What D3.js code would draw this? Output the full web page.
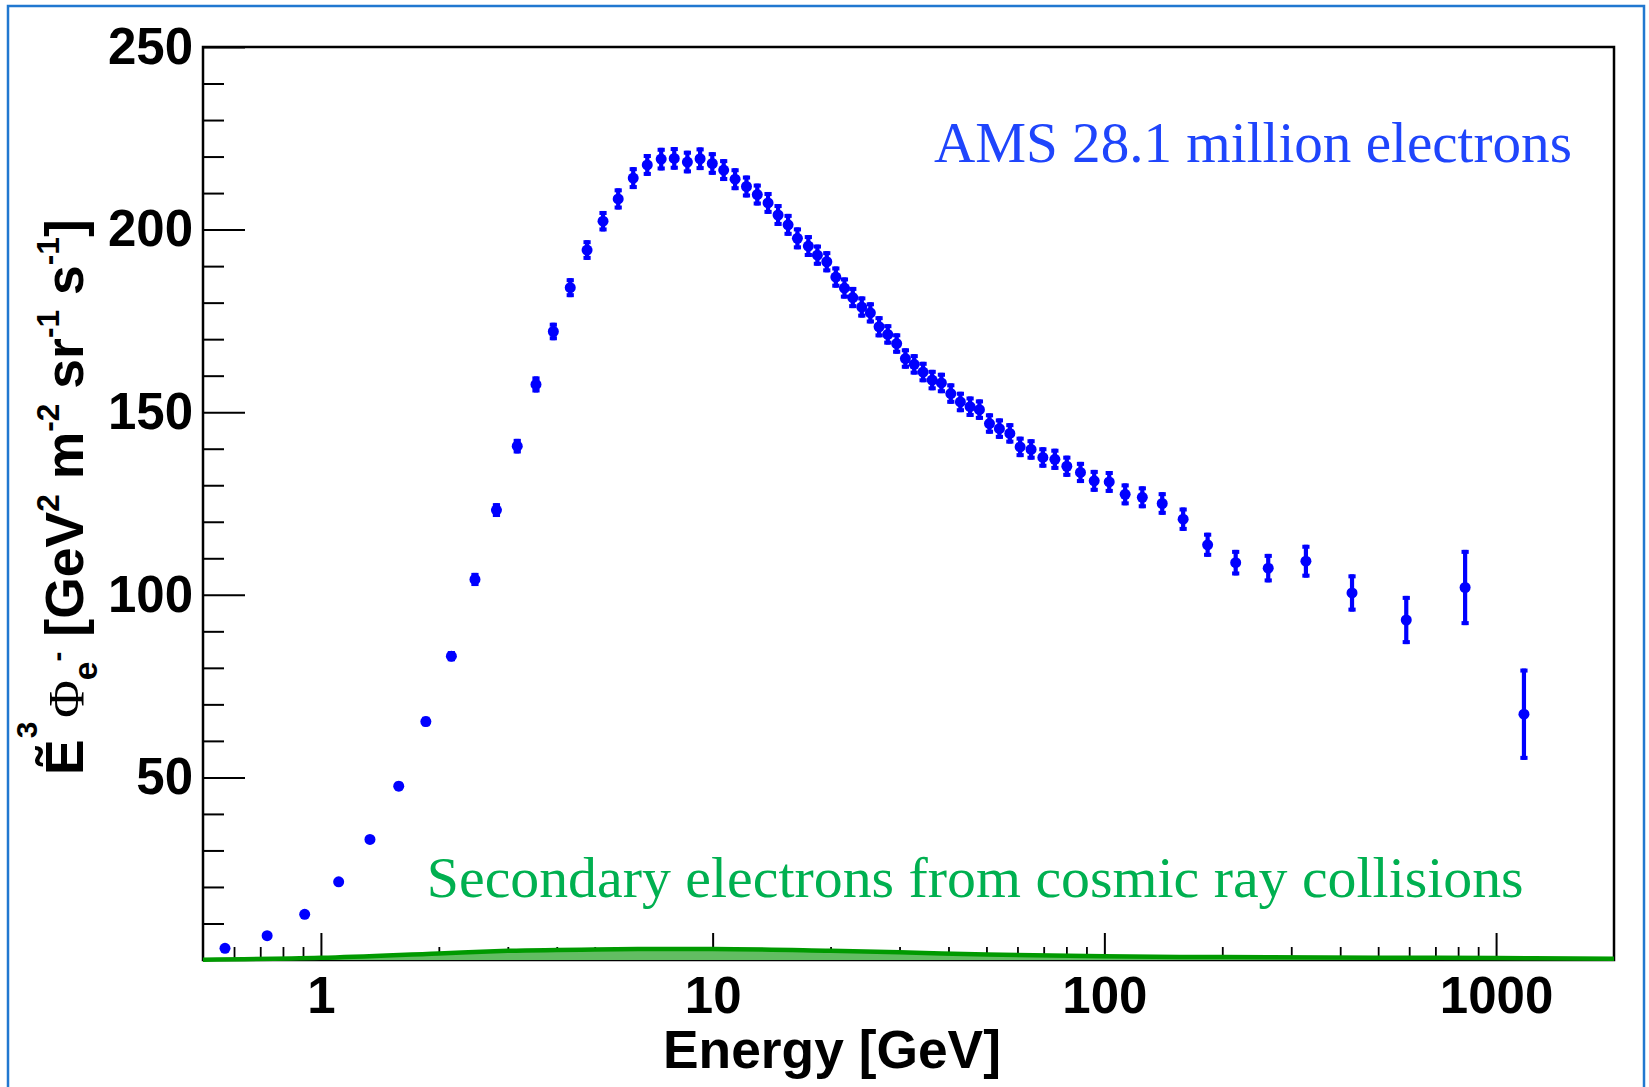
<!DOCTYPE html>
<html>
<head>
<meta charset="utf-8">
<script src="https://cdn.jsdelivr.net/npm/d3@7"></script>
<style>
  body { margin: 0; background: #fff; }
  svg text { font-family: "Liberation Sans", Arial, sans-serif; }
</style>
</head>
<body>
<svg id="chart" width="1649" height="1087"></svg>
<script>
// AMS electron flux (E^3 scaled)
var energies = [0.569, 0.729, 0.909, 1.11, 1.334, 1.58, 1.853, 2.153, 2.473, 2.806,
  3.171, 3.54, 3.92, 4.33, 4.78, 5.25, 5.74, 6.27, 6.81, 7.39,
  7.98, 8.62, 9.29, 9.98, 10.67, 11.41, 12.2, 13.0, 13.85, 14.69,
  15.58, 16.46, 17.55, 18.51, 19.56, 20.63, 21.7, 22.79, 24.03, 25.27,
  26.6, 28.0, 29.5, 31.05, 32.7, 34.45, 36.34, 38.37, 40.55, 42.9,
  45.42, 47.98, 50.9, 53.96, 57.37, 60.95, 65.0, 69.66, 74.76, 80.2,
  86.9, 94.2, 102.9, 113.0, 125.0, 140.5, 158.9, 183.5, 216.4, 262,
  327, 428.8, 589.8, 833.6, 1178];
var fluxValues = [3.2, 6.65, 12.5, 21.4, 33.0, 47.6, 65.3, 83.2, 104.2, 123.2,
  140.7, 157.6, 172.1, 184.1, 194.4, 202.3, 208.4, 214.1, 217.7, 219.3,
  219.5, 218.5, 219.4, 218.1, 216.3, 213.8, 211.8, 209.6, 207.3, 204.0,
  201.3, 197.6, 195.5, 193.0, 191.2, 187.0, 184.0, 181.4, 178.8, 177.2,
  173.4, 171.3, 168.8, 164.7, 163.1, 161.0, 158.8, 158.0, 155.1, 152.8,
  151.5, 150.7, 146.9, 145.5, 144.2, 140.5, 139.8, 137.6, 137.1, 135.2,
  133.5, 131.2, 130.9, 127.5, 126.7, 125.0, 120.7, 113.7, 108.8, 107.3,
  109.2, 100.5, 93.1, 102.0, 67.3];
var fluxErrors = [0.4, 0.5, 0.6, 0.8, 1.0, 1.2, 1.3, 1.4, 1.8, 1.9,
  2.0, 2.2, 2.4, 2.6, 2.7, 2.8, 2.9, 3.0, 3.0, 3.1,
  3.1, 3.1, 3.1, 3.1, 3.0, 3.0, 3.0, 3.0, 3.0, 3.0,
  3.0, 3.0, 3.0, 2.9, 2.9, 2.9, 2.9, 2.9, 2.9, 2.9,
  2.9, 2.8, 2.8, 2.8, 2.8, 2.8, 2.8, 2.8, 2.8, 2.8,
  2.8, 2.8, 2.8, 2.8, 2.8, 2.8, 2.8, 2.8, 2.9, 2.9,
  2.9, 3.0, 3.0, 3.0, 3.0, 3.1, 3.2, 3.3, 3.5, 3.9,
  4.5, 5.1, 6.6, 10.3, 12.5];

// secondary electrons band
var secEnergies = [0.5, 1, 2, 3, 5, 7, 10, 20, 30, 50, 100, 200, 500, 1000, 2000];
var secValues = [0.1, 0.6, 1.8, 2.5, 2.9, 3.0, 3.0, 2.5, 2.1, 1.5, 1.0, 0.8, 0.65, 0.55, 0.35];

var xTickValues = [1, 10, 100, 1000];
var xMinorValues = [0.6, 0.7, 0.8, 0.9, 2, 3, 4, 5, 6, 7, 8, 9, 20, 30, 40, 50, 60, 70, 80, 90,
  200, 300, 400, 500, 600, 700, 800, 900];
var yTickValues = [50, 100, 150, 200, 250];
var yMinorValues = d3.range(10, 250, 10).filter(function(v) { return v % 50 !== 0; });

var width = 1649, height = 1087;
var plot = { left: 203, right: 1614, top: 47, bottom: 960 };

var svg = d3.select('#chart');

var x = d3.scaleLog().domain([0.5, 2000]).range([plot.left, plot.right]);
var y = d3.scaleLinear().domain([0, 250]).range([plot.bottom, plot.top]);

// outer blue frame
svg.append('rect')
  .attr('x', 8).attr('y', 6)
  .attr('width', 1636).attr('height', 1200)
  .attr('fill', 'none')
  .attr('stroke', '#2178d0')
  .attr('stroke-width', 2.5);

/* Axes */
/* ---- */

var xAxis = svg.append('g')
  .attr('transform', 'translate(0,' + plot.bottom + ')')
  .call(d3.axisBottom(x).tickValues(xTickValues).tickSize(-27).tickPadding(17)
    .tickFormat(d3.format('d')));
var xMinor = svg.append('g')
  .attr('transform', 'translate(0,' + plot.bottom + ')')
  .call(d3.axisBottom(x).tickValues(xMinorValues).tickSize(-13).tickFormat(''));

var yAxis = svg.append('g')
  .attr('transform', 'translate(' + plot.left + ',0)')
  .call(d3.axisLeft(y).tickValues(yTickValues).tickSize(-42).tickPadding(10));
var yMinor = svg.append('g')
  .attr('transform', 'translate(' + plot.left + ',0)')
  .call(d3.axisLeft(y).tickValues(yMinorValues).tickSize(-21).tickFormat(''));

[xAxis, xMinor, yAxis, yMinor].forEach(function(g) {
  g.select('.domain').remove();
  g.selectAll('line').attr('stroke', '#000').attr('stroke-width', 2);
  g.selectAll('text')
    .attr('fill', '#000')
    .style('font-family', '"Liberation Sans", Arial, sans-serif')
    .style('font-weight', 'bold')
    .style('font-size', '51px');
});
xMinor.selectAll('line').attr('stroke-width', 1.8);

// plot frame
svg.append('rect')
  .attr('x', plot.left).attr('y', plot.top)
  .attr('width', plot.right - plot.left)
  .attr('height', plot.bottom - plot.top)
  .attr('fill', 'none')
  .attr('stroke', '#000')
  .attr('stroke-width', 2.5);

/* Secondary electrons */
/* ------------------- */

var secData = secEnergies.map(function(e, i) { return { e: e, v: secValues[i] }; });

svg.append('path')
  .datum(secData)
  .attr('fill', '#62bd62')
  .attr('d', d3.area()
    .x(function(d) { return x(d.e); })
    .y0(y(0))
    .y1(function(d) { return y(d.v); })
    .curve(d3.curveMonotoneX));

svg.append('path')
  .datum(secData)
  .attr('fill', 'none')
  .attr('stroke', '#009a00')
  .attr('stroke-width', 4.5)
  .attr('d', d3.line()
    .x(function(d) { return x(d.e); })
    .y(function(d) { return y(d.v); })
    .curve(d3.curveMonotoneX));

/* Data points */
/* ----------- */

var data = energies.map(function(e, i) {
  return { e: e, v: fluxValues[i], err: fluxErrors[i] };
});

var pts = svg.append('g').attr('fill', '#0000ff');

pts.selectAll('rect.bar')
  .data(data)
  .join('rect')
  .attr('class', 'bar')
  .attr('x', function(d) { return x(d.e) - 2.1; })
  .attr('width', 4.2)
  .attr('y', function(d) { return y(d.v + d.err); })
  .attr('height', function(d) { return y(d.v - d.err) - y(d.v + d.err); });

pts.selectAll('rect.capTop')
  .data(data)
  .join('rect')
  .attr('class', 'capTop')
  .attr('x', function(d) { return x(d.e) - 3.6; })
  .attr('width', 7.2)
  .attr('y', function(d) { return y(d.v + d.err); })
  .attr('height', 4);

pts.selectAll('rect.capBot')
  .data(data)
  .join('rect')
  .attr('class', 'capBot')
  .attr('x', function(d) { return x(d.e) - 3.6; })
  .attr('width', 7.2)
  .attr('y', function(d) { return y(d.v - d.err) - 4; })
  .attr('height', 4);

pts.selectAll('circle')
  .data(data)
  .join('circle')
  .attr('cx', function(d) { return x(d.e); })
  .attr('cy', function(d) { return y(d.v); })
  .attr('r', 5.5);

/* Texts */
/* ----- */

function fitWidth(sel, target) {
  var size = parseFloat(sel.style('font-size'));
  var w = sel.node().getComputedTextLength();
  sel.style('font-size', (size * target / w) + 'px');
}

var amsLabel = svg.append('text')
  .attr('x', 934).attr('y', 161.7)
  .style('font-family', '"Liberation Serif", "DejaVu Serif", serif')
  .style('font-size', '54px')
  .attr('fill', '#1f45fc')
  .text('AMS 28.1 million electrons');
fitWidth(amsLabel, 638);

var secLabel = svg.append('text')
  .attr('x', 426.8).attr('y', 896.7)
  .style('font-family', '"Liberation Serif", "DejaVu Serif", serif')
  .style('font-size', '54px')
  .attr('fill', '#00b050')
  .text('Secondary electrons from cosmic ray collisions');
fitWidth(secLabel, 1097);

var xTitle = svg.append('text')
  .attr('x', 663).attr('y', 1068)
  .style('font-weight', 'bold')
  .style('font-size', '52px')
  .attr('fill', '#000')
  .text('Energy [GeV]');
fitWidth(xTitle, 338);

// rotated y title, built from pieces with super/subscripts
var yTitleG = svg.append('g')
  .attr('transform', 'translate(83,775) rotate(-90)');
var yTitle = yTitleG.append('text')
  .style('font-weight', 'bold')
  .style('font-size', '54px')
  .attr('fill', '#000');

var parts = [
  { t: '\u1EBC', dy: 0 },
  { t: '3', dy: -46, size: 30, dx: 1 },
  { t: '\u03A6', dy: 46, size: 52, serif: true, dx: 4 },
  { t: 'e', dy: 14, size: 34 },
  { t: '-', dy: -30, size: 30 },
  { t: ' [GeV', dy: 16 },
  { t: '2', dy: -24, size: 32 },
  { t: ' m', dy: 24 },
  { t: '-2', dy: -24, size: 32 },
  { t: ' sr', dy: 24 },
  { t: '-1', dy: -24, size: 32 },
  { t: ' s', dy: 24 },
  { t: '-1', dy: -24, size: 32 },
  { t: ']', dy: 24 }
];
parts.forEach(function(p) {
  var ts = yTitle.append('tspan')
    .attr('dy', p.dy)
    .text(p.t);
  if (p.dx) ts.attr('dx', p.dx);
  if (p.size) ts.style('font-size', p.size + 'px');
  if (p.serif) ts.style('font-family', '"Liberation Serif", serif').style('font-weight', 'normal');
});
var tw = yTitle.node().getComputedTextLength();
yTitleG.attr('transform', 'translate(83,775) rotate(-90) scale(' + (551 / tw) + ')');
</script>
</body>
</html>
